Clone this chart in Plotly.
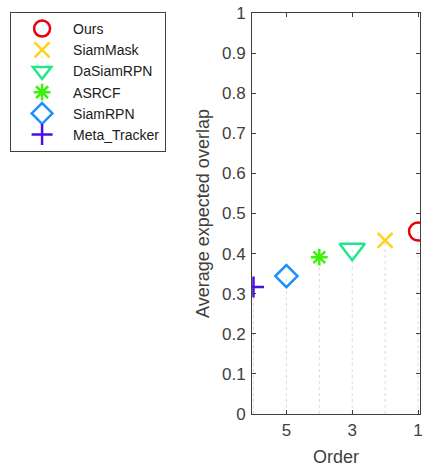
import plotly.graph_objects as go

trackers = ["Ours", "SiamMask", "DaSiamRPN", "ASRCF", "SiamRPN", "Meta_Tracker"]
order = [1, 2, 3, 4, 5, 6]
eao = [0.455, 0.433, 0.411, 0.391, 0.344, 0.317]
colors = ["#e8000b", "#ffd21a", "#1de98b", "#3af20a", "#1e8fff", "#4a0fe8"]
symbols = ["circle-open", "x-thin-open", "triangle-down-open", "asterisk-open", "diamond-open", "cross-thin-open"]
sizes = [18, 15, 22, 14, 17, 15]

x_ticks = [5, 3, 1]
y_ticks = [0, 0.1, 0.2, 0.3, 0.4, 0.5, 0.6, 0.7, 0.8, 0.9, 1]

FONT = "Liberation Sans, Arial, sans-serif"
GREY = "#404040"

fig = go.Figure()

# stem lines
sx, sy = [], []
for o, v in zip(order, eao):
    sx += [o, o, None]
    sy += [0, v, None]
fig.add_trace(go.Scatter(x=sx, y=sy, mode="lines", showlegend=False, hoverinfo="skip",
                         line=dict(color="#dadada", width=1, dash="dot")))

for name, o, v, c, s, sz in zip(trackers, order, eao, colors, symbols, sizes):
    fig.add_trace(go.Scatter(x=[o], y=[v], mode="markers", name=name,
                             marker=dict(symbol=s, size=sz, color=c, line=dict(color=c, width=2.5))))

axis_common = dict(showline=True, linecolor=GREY, linewidth=1, mirror="ticks",
                   ticks="inside", ticklen=4, tickcolor=GREY, showgrid=False, zeroline=False,
                   tickfont=dict(family=FONT, size=17, color=GREY))

fig.update_xaxes(range=[6.045, 0.94], tickvals=x_ticks, ticktext=[str(t) for t in x_ticks],
                 ticklabeloverflow="allow", ticklabelstandoff=1,
                 title=dict(text="Order", font=dict(family=FONT, size=18, color=GREY), standoff=11),
                 **axis_common)
fig.update_yaxes(range=[0, 1], tickvals=y_ticks, ticktext=[f"{t:g}" for t in y_ticks],
                 ticklabelstandoff=2,
                 title=dict(text="Average expected overlap", font=dict(family=FONT, size=18, color=GREY), standoff=7),
                 **axis_common)

fig.update_layout(
    width=426, height=467,
    margin=dict(l=252, r=3, t=13, b=53),
    paper_bgcolor="white", plot_bgcolor="white",
    legend=dict(x=-1.44, y=1.0025, xanchor="left", yanchor="top",
                bgcolor="white", bordercolor=GREY, borderwidth=1,
                font=dict(family=FONT, size=14, color="#202020"),
                itemwidth=52, tracegroupgap=0),
)

fig.write_html("out.html", config={"displayModeBar": False},
               post_script="document.body.style.margin='0';document.body.style.overflow='hidden';")
